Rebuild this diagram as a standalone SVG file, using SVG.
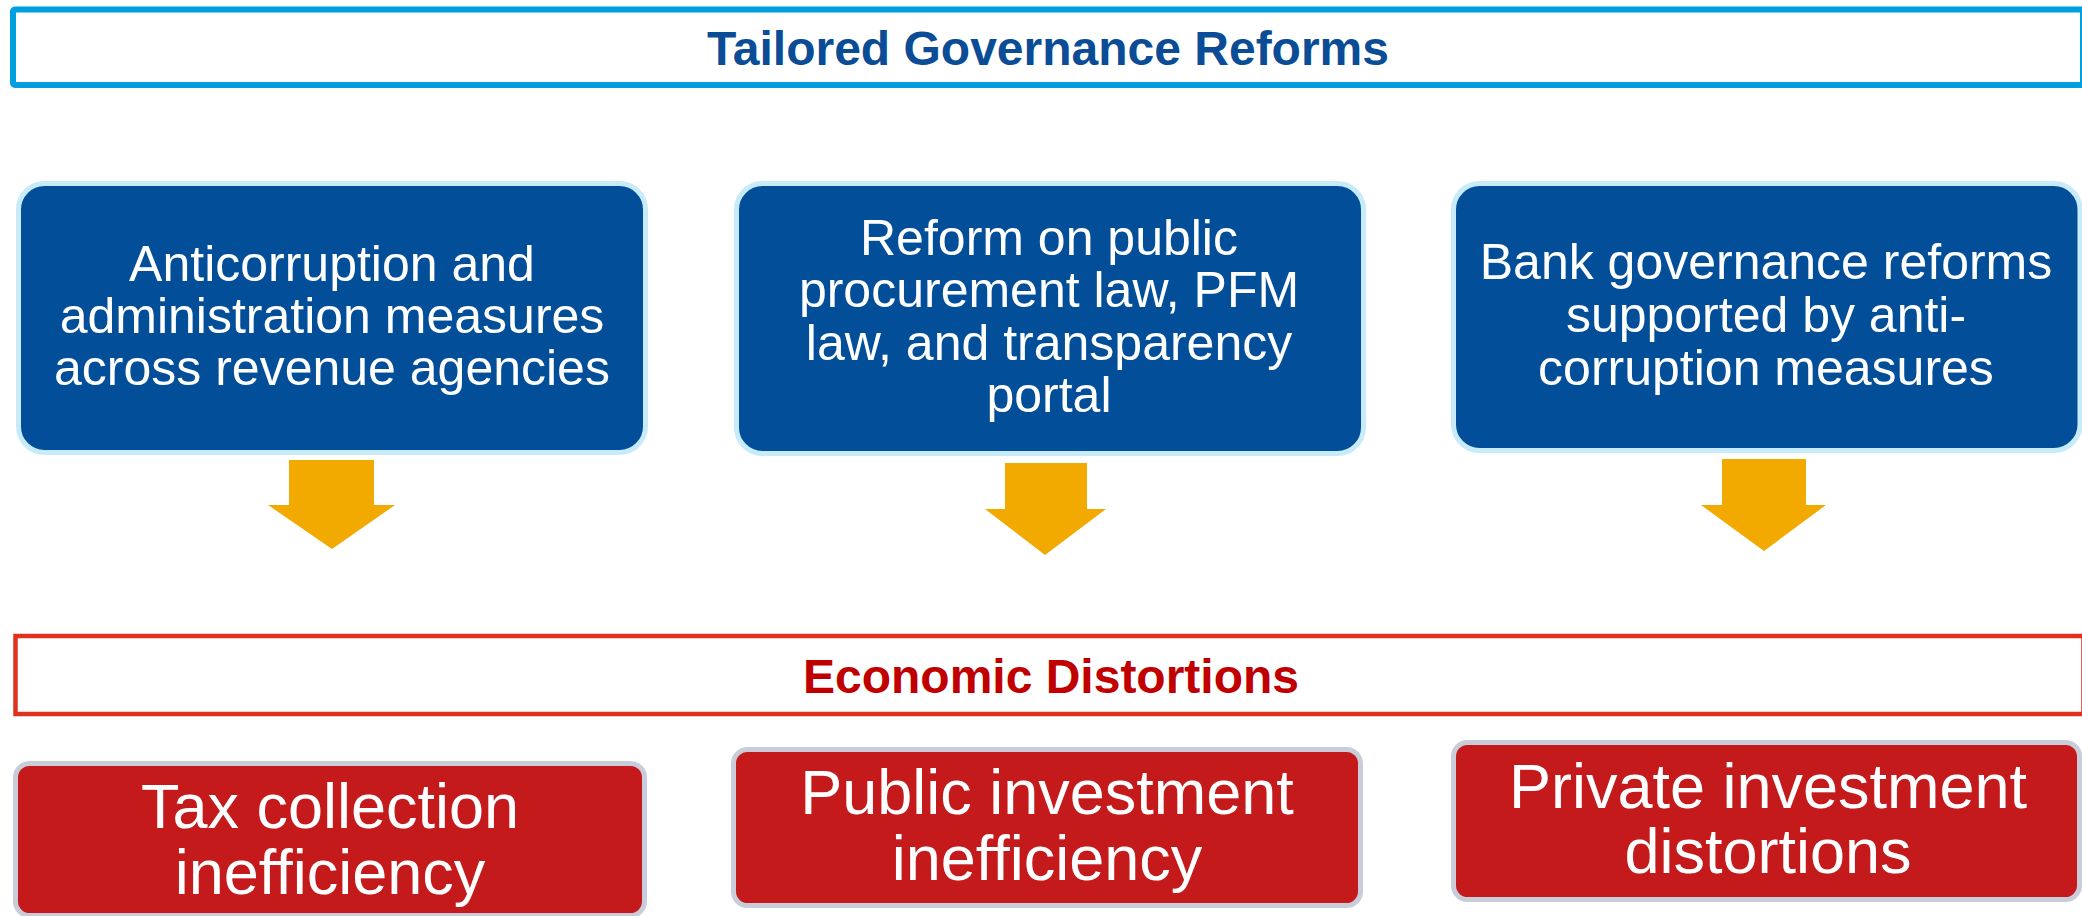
<svg xmlns="http://www.w3.org/2000/svg" width="2082" height="916" viewBox="0 0 2082 916">
  <style>
    .banner-blue { fill: #ffffff; stroke: #009FDF; stroke-width: 6; }
    .banner-red { fill: #ffffff; stroke: #E0301E; stroke-width: 4.5; }
    .head { font-family: "Liberation Sans", Arial, sans-serif; font-weight: bold; font-size: 48px; text-anchor: middle; }
    .reform { fill: #024E98; stroke: #C8EBFA; stroke-width: 5; }
    .effect { fill: #C41A1C; stroke: #C9CCD9; stroke-width: 5; }
    .reform-text { font-family: "Liberation Sans", Arial, sans-serif; font-size: 50px; fill: #ffffff; text-anchor: middle; }
    .effect-text { font-family: "Liberation Sans", Arial, sans-serif; font-size: 63px; fill: #ffffff; text-anchor: middle; }
    .arrow { fill: #F2A900; }
  </style>
  <rect width="2082" height="916" fill="#ffffff"/>

  <!-- Top heading banner -->
  <g id="governance-reforms">
    <rect class="banner-blue" x="13" y="9.5" width="2070" height="75.5" rx="2"/>
    <text class="head" x="1048" y="65" fill="#0A4C96">Tailored Governance Reforms</text>
  </g>

  <!-- Reform boxes -->
  <g id="reform-revenue">
    <rect class="reform" x="18.5" y="183.5" width="627" height="269" rx="26"/>
    <text class="reform-text" x="332" y="281">Anticorruption and</text>
    <text class="reform-text" x="332" y="333">administration measures</text>
    <text class="reform-text" x="332" y="385">across revenue agencies</text>
  </g>
  <g id="reform-procurement">
    <rect class="reform" x="736.5" y="183.5" width="627" height="270" rx="26"/>
    <text class="reform-text" x="1049" y="255">Reform on public</text>
    <text class="reform-text" x="1049" y="307">procurement law, PFM</text>
    <text class="reform-text" x="1049" y="360">law, and transparency</text>
    <text class="reform-text" x="1049" y="412">portal</text>
  </g>
  <g id="reform-bank">
    <rect class="reform" x="1453.5" y="183.5" width="626.5" height="267" rx="26"/>
    <text class="reform-text" x="1766" y="279">Bank governance reforms</text>
    <text class="reform-text" x="1766" y="332">supported by anti-</text>
    <text class="reform-text" x="1766" y="385">corruption measures</text>
  </g>

  <!-- Downward block arrows -->
  <g id="connectors">
    <polygon class="arrow" points="289,460 374,460 374,505 395,505 332,549 268,505 289,505"/>
    <polygon class="arrow" points="1005,463 1087,463 1087,509 1106,509 1045,555 985,509 1005,509"/>
    <polygon class="arrow" points="1722,459 1806,459 1806,505 1826,505 1764,551 1701,505 1722,505"/>
  </g>

  <!-- Distortions heading banner -->
  <g id="economic-distortions">
    <rect class="banner-red" x="15.5" y="636" width="2068" height="78"/>
    <text class="head" x="1051" y="693" fill="#C00000">Economic Distortions</text>
  </g>

  <!-- Distortion boxes -->
  <g id="tax-collection">
    <rect class="effect" x="15.5" y="763.5" width="629" height="152" rx="14"/>
    <text class="effect-text" x="330" y="828">Tax collection</text>
    <text class="effect-text" x="330" y="894">inefficiency</text>
  </g>
  <g id="public-investment">
    <rect class="effect" x="733.5" y="749.5" width="627" height="156" rx="14"/>
    <text class="effect-text" x="1047" y="814">Public investment</text>
    <text class="effect-text" x="1047" y="880">inefficiency</text>
  </g>
  <g id="private-investment">
    <rect class="effect" x="1453.5" y="742.5" width="626" height="157" rx="14"/>
    <text class="effect-text" x="1768" y="808">Private investment</text>
    <text class="effect-text" x="1768" y="873">distortions</text>
  </g>
</svg>
